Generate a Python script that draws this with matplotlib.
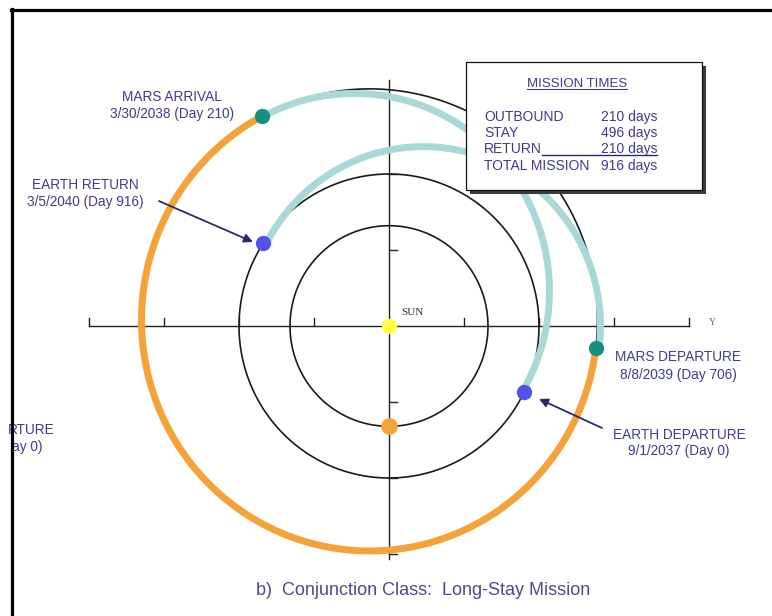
import numpy as np
import matplotlib.pyplot as plt
from matplotlib.patches import Rectangle
from matplotlib.lines import Line2D

# --- orbits (AU) ---
inner_r = 0.66
earth_r = 1.0
mars_r = 1.52
mars_center = (-0.13, 0.04)

# transfer legs drawn as circular arcs: (cx, cy, radius, start deg, end deg)
outbound_arc = (-0.23, 0.23, 1.30, -30.6, 118.2)
return_arc = (0.23, 0.0, 1.18, -7.1, 152.9)

# event angles on their orbits (deg)
earth_dep_ang = -25.7
mars_arr_ang = 118.0
mars_dep_ang = -6.9
earth_ret_ang = 147.0
inner_planet_ang = -90.0

# mission times table
legs = ["OUTBOUND", "STAY", "RETURN", "TOTAL MISSION"]
leg_days = [210, 496, 210, 916]

event_names = ["MARS ARRIVAL", "EARTH RETURN", "MARS DEPARTURE", "EARTH DEPARTURE"]
event_dates = ["3/30/2038 (Day 210)", "3/5/2040 (Day 916)", "8/8/2039 (Day 706)", "9/1/2037 (Day 0)"]
event_text_pos = [(-1.445, 1.507, 1.395), (-2.027, 0.928, 0.816),
                  (1.927, -0.204, -0.322), (1.935, -0.717, -0.822)]

# what is left visible of the neighbouring panel's label
cut_label = ["RTURE", "ay 0)"]

axis_ticks = [0.5, 1.0, 1.5, 2.0]

NAVY = "#3d3d8f"
TEAL_ARC = "#a9d8d8"
ORANGE = "#f5a238"
TEAL_DOT = "#13907e"
BLUE_DOT = "#5252ec"


def arc(cx, cy, r, a0, a1, n=300):
    t = np.radians(np.linspace(a0, a1, n))
    return cx + r * np.cos(t), cy + r * np.sin(t)


def on_orbit(cx, cy, r, ang):
    t = np.radians(ang)
    return cx + r * np.cos(t), cy + r * np.sin(t)


def main():
    plt.rcParams['font.family'] = ['Liberation Sans', 'DejaVu Sans']

    fig = plt.figure(figsize=(7.72, 6.16), dpi=100)
    ax = fig.add_axes([0, 0, 1, 1])
    ax.set_xlim(-389 / 150, 383 / 150)
    ax.set_ylim(-290 / 152, 326 / 152)
    ax.axis('off')

    # axes through the sun
    ax.plot([-2.0, 2.0], [0, 0], color="#222222", lw=1.0, zorder=1)
    ax.plot([0, 0], [-1.53, 1.62], color="#222222", lw=1.0, zorder=1)
    for t in axis_ticks:
        for s in (-1, 1):
            ax.plot([s * t, s * t], [0, 0.055], color="#222222", lw=1.0, zorder=1)
            if t < 2.0:
                ax.plot([0, 0.05], [s * t, s * t], color="#222222", lw=1.0, zorder=1)

    # planet orbits
    x, y = arc(0, 0, inner_r, 0, 360)
    ax.plot(x, y, color="#1a1a1a", lw=1.2, zorder=2)
    x, y = arc(0, 0, earth_r, 0, 360)
    ax.plot(x, y, color="#1a1a1a", lw=1.2, zorder=2)
    x, y = arc(mars_center[0], mars_center[1], mars_r, mars_dep_ang, mars_arr_ang)
    ax.plot(x, y, color="#1a1a1a", lw=1.2, zorder=2)

    # stay at Mars
    x, y = arc(mars_center[0], mars_center[1], mars_r, mars_arr_ang, 360 + mars_dep_ang)
    ax.plot(x, y, color=ORANGE, lw=5, solid_capstyle='butt', zorder=3)

    # transfer legs
    for leg in (outbound_arc, return_arc):
        x, y = arc(*leg)
        ax.plot(x, y, color=TEAL_ARC, lw=5, solid_capstyle='butt', zorder=3)

    # event points
    ms = 10
    ax.plot(*on_orbit(0, 0, earth_r, earth_dep_ang), 'o', color=BLUE_DOT, ms=ms, zorder=5)
    ax.plot(*on_orbit(0, 0, earth_r, earth_ret_ang), 'o', color=BLUE_DOT, ms=ms, zorder=5)
    ax.plot(*on_orbit(*mars_center, mars_r, mars_arr_ang), 'o', color=TEAL_DOT, ms=ms, zorder=5)
    ax.plot(*on_orbit(*mars_center, mars_r, mars_dep_ang), 'o', color=TEAL_DOT, ms=ms, zorder=5)
    ax.plot(*on_orbit(0, 0, inner_r, inner_planet_ang), 'o', color=ORANGE, ms=11, zorder=5)
    ax.plot(0, 0, 'o', color="#ffff40", ms=10, zorder=5)

    ax.text(0.08, 0.086, "SUN", family="Liberation Serif", fontsize=8, color="#333333",
            va='center', ha='left')
    ax.text(2.153, 0.02, "Y", family="Liberation Serif", fontsize=7, color="#666666",
            va='center', ha='center')

    # event labels
    for name, date, (tx, ty1, ty2) in zip(event_names, event_dates, event_text_pos):
        ax.text(tx, ty1, name, fontsize=9.8, color=NAVY, ha='center', va='center')
        ax.text(tx, ty2, date, fontsize=9.8, color=NAVY, ha='center', va='center')

    # remnant of the neighbouring panel's label at the left edge
    ax.text(-2.227, -0.684, cut_label[0], fontsize=9.8, color=NAVY, ha='right', va='center')
    ax.text(-2.307, -0.796, cut_label[1], fontsize=9.8, color=NAVY, ha='right', va='center')

    arrow = dict(arrowstyle='-|>', color="#2a2a6a", lw=1.3, mutation_scale=13,
                 shrinkA=0, shrinkB=0)
    ax.annotate("", xy=(-0.907, 0.553), xytext=(-1.533, 0.822), arrowprops=arrow, zorder=6)
    ax.annotate("", xy=(1.0, -0.48), xytext=(1.42, -0.671), arrowprops=arrow, zorder=6)

    # mission times box
    bx0, bx1, by0, by1 = 0.513, 2.087, 0.895, 1.737
    ax.add_patch(Rectangle((bx0 + 0.027, by0 - 0.026), bx1 - bx0, by1 - by0,
                           facecolor="#3a3a3a", edgecolor='none', zorder=7))
    ax.add_patch(Rectangle((bx0, by0), bx1 - bx0, by1 - by0,
                           facecolor="white", edgecolor="#111111", lw=0.9, zorder=8))
    title = ax.text(1.253, 1.592, "MISSION TIMES", fontsize=9.5, color=NAVY,
                    ha='center', va='center', zorder=9)
    row_y = [1.375, 1.270, 1.164, 1.053]
    row_txt = []
    for name, days, yy in zip(legs, leg_days, row_y):
        a = ax.text(0.633, yy, name, fontsize=10, color=NAVY, ha='left', va='center', zorder=9)
        b = ax.text(1.787, yy, f"{days} days", fontsize=10, color=NAVY, ha='right',
                    va='center', zorder=9)
        row_txt.append((a, b))

    # underlines
    fig.canvas.draw()
    inv = ax.transData.inverted()
    bb = title.get_window_extent()
    (ux0, uy), (ux1, _) = inv.transform([(bb.x0, bb.y0 + 1), (bb.x1, bb.y0 + 1)])
    ax.plot([ux0, ux1], [uy, uy], color=NAVY, lw=0.8, zorder=9)
    ra, rb = row_txt[2]
    ba, bb2 = ra.get_window_extent(), rb.get_window_extent()
    (ux0, uy), (ux1, _) = inv.transform([(ba.x1, ba.y0 + 1.5), (bb2.x1, ba.y0 + 1.5)])
    ax.plot([ux0, ux1], [uy, uy], color="#2a2a6a", lw=1.0, zorder=9)

    ax.text(0.227, -1.737, "b)  Conjunction Class:  Long-Stay Mission", fontsize=13,
            color="#4a4a8e", ha='center', va='center')

    # page frame
    W, H = 772, 616
    fig.add_artist(Line2D([12 / W, 12 / W], [0, 1 - 9 / H], color='black', lw=2.3, zorder=11))
    fig.add_artist(Line2D([11 / W, 1], [1 - 10 / H, 1 - 10 / H], color='black', lw=2.3, zorder=11))

    fig.savefig("out.png", dpi=100)


if __name__ == "__main__":
    main()
